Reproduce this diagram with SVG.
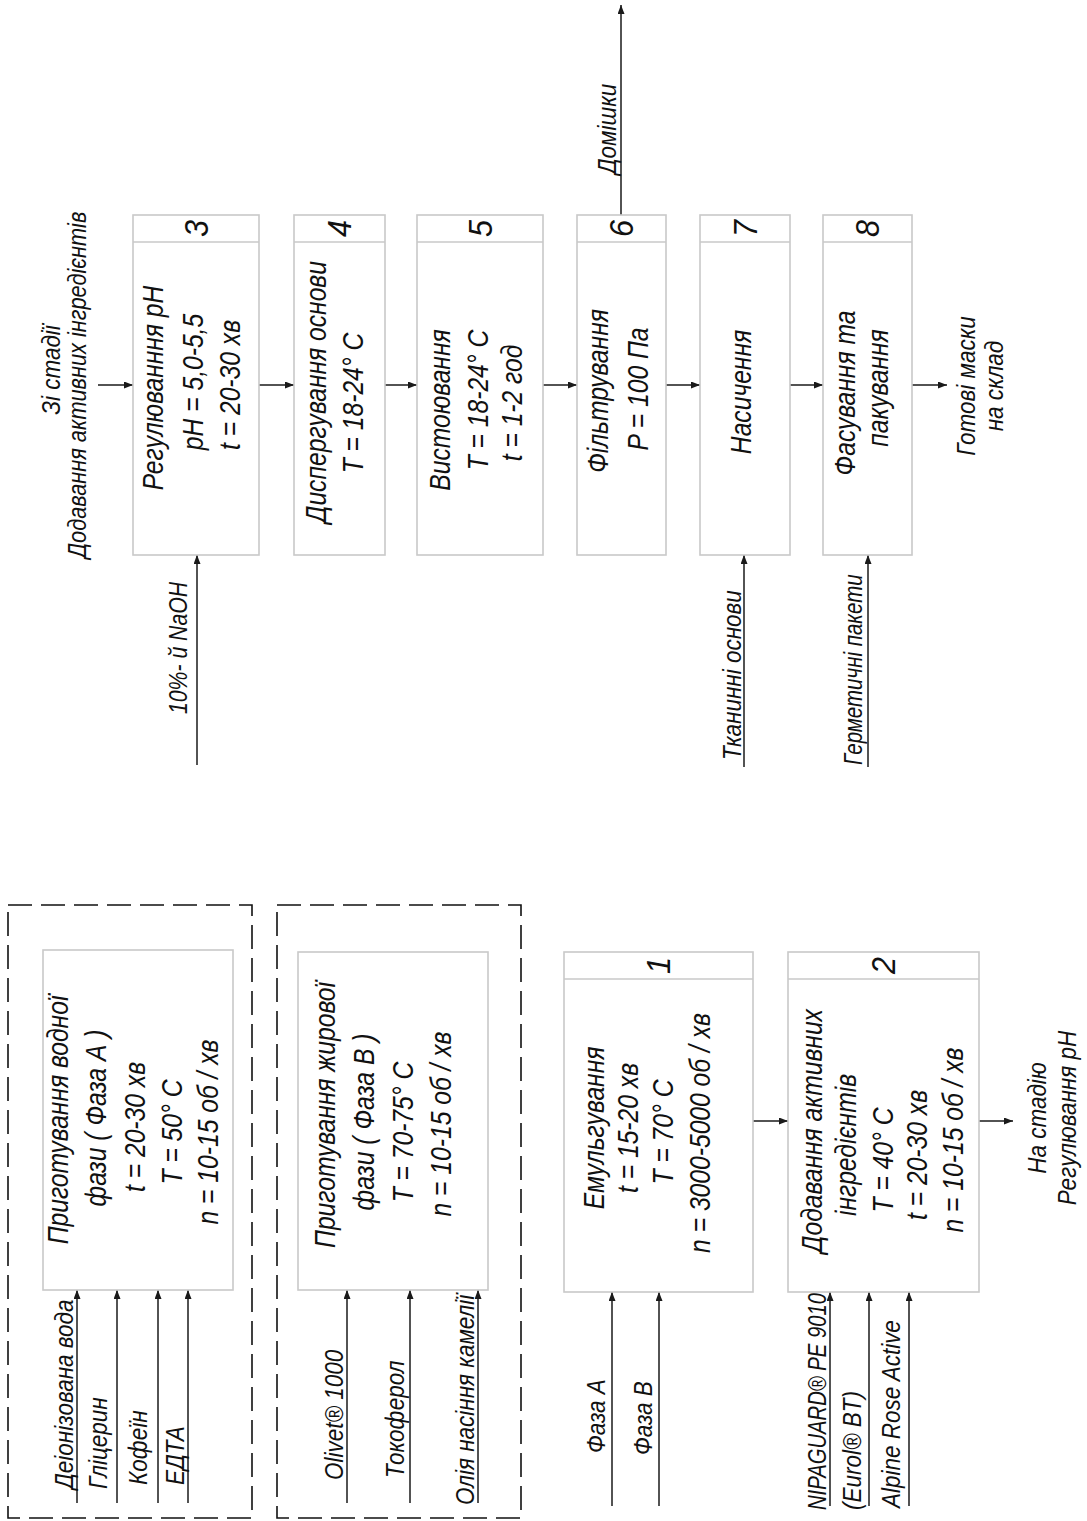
<svg xmlns="http://www.w3.org/2000/svg" width="1087" height="1521" viewBox="0 0 1087 1521">
<style>
.bg{fill:#fff}
.box{fill:#fff;stroke:#c9c9c9;stroke-width:1.6}
.dash{fill:none;stroke:#111;stroke-width:1.6;stroke-dasharray:24 9}
.ln{fill:none;stroke:#1a1a1a;stroke-width:1.5}
.t{font-family:"Liberation Sans",Arial,sans-serif;font-style:italic;font-size:29px;fill:#111;text-anchor:middle}
.l{font-family:"Liberation Sans",Arial,sans-serif;font-style:italic;font-size:25px;fill:#111;text-anchor:start}
.lm{font-family:"Liberation Sans",Arial,sans-serif;font-style:italic;font-size:25px;fill:#111;text-anchor:middle}
.n{font-family:"Liberation Sans",Arial,sans-serif;font-style:italic;font-size:34px;fill:#111;text-anchor:middle}
</style>
<defs>
<marker id="ah" viewBox="0 0 9 7" refX="9" refY="3.5" markerWidth="9" markerHeight="7" markerUnits="userSpaceOnUse" orient="auto">
<path d="M0,0 L9,3.5 L0,7 z" fill="#1a1a1a"/>
</marker>
</defs>
<rect class="bg" x="0" y="0" width="1087" height="1521"/>

<g id="connectors">
<line class="ln" x1="77" y1="1503" x2="77" y2="1290" marker-end="url(#ah)"/>
<line class="ln" x1="117" y1="1503" x2="117" y2="1290" marker-end="url(#ah)"/>
<line class="ln" x1="158" y1="1503" x2="158" y2="1290" marker-end="url(#ah)"/>
<line class="ln" x1="188" y1="1503" x2="188" y2="1290" marker-end="url(#ah)"/>
<line class="ln" x1="347" y1="1503" x2="347" y2="1290" marker-end="url(#ah)"/>
<line class="ln" x1="410" y1="1503" x2="410" y2="1290" marker-end="url(#ah)"/>
<line class="ln" x1="478" y1="1503" x2="478" y2="1290" marker-end="url(#ah)"/>
<line class="ln" x1="612" y1="1506" x2="612" y2="1292" marker-end="url(#ah)"/>
<line class="ln" x1="659" y1="1506" x2="659" y2="1292" marker-end="url(#ah)"/>
<line class="ln" x1="830" y1="1506" x2="830" y2="1292" marker-end="url(#ah)"/>
<line class="ln" x1="869" y1="1506" x2="869" y2="1292" marker-end="url(#ah)"/>
<line class="ln" x1="909" y1="1506" x2="909" y2="1292" marker-end="url(#ah)"/>
<line class="ln" x1="753" y1="1121" x2="788" y2="1121" marker-end="url(#ah)"/>
<line class="ln" x1="979" y1="1121" x2="1013" y2="1121" marker-end="url(#ah)"/>
<line class="ln" x1="98" y1="385" x2="133" y2="385" marker-end="url(#ah)"/>
<line class="ln" x1="259" y1="385" x2="294" y2="385" marker-end="url(#ah)"/>
<line class="ln" x1="385" y1="385" x2="417" y2="385" marker-end="url(#ah)"/>
<line class="ln" x1="543" y1="385" x2="577" y2="385" marker-end="url(#ah)"/>
<line class="ln" x1="666" y1="385" x2="700" y2="385" marker-end="url(#ah)"/>
<line class="ln" x1="790" y1="385" x2="823" y2="385" marker-end="url(#ah)"/>
<line class="ln" x1="912" y1="385" x2="947" y2="385" marker-end="url(#ah)"/>
<line class="ln" x1="197" y1="765" x2="197" y2="555" marker-end="url(#ah)"/>
<line class="ln" x1="744" y1="767" x2="744" y2="555" marker-end="url(#ah)"/>
<line class="ln" x1="868" y1="767" x2="868" y2="555" marker-end="url(#ah)"/>
<line class="ln" x1="621" y1="215" x2="621" y2="5" marker-end="url(#ah)"/>
</g>

<g id="phaseA">
<rect class="dash" x="8" y="905" width="244" height="613"/>
<rect class="box" x="43" y="950" width="190" height="340"/>
<text class="t" transform="translate(68,1120) rotate(-90) scale(0.85,1)">Приготування водної</text>
<text class="t" transform="translate(106,1118) rotate(-90) scale(0.85,1)">фази ( Фаза А )</text>
<text class="t" transform="translate(145,1127) rotate(-90) scale(0.85,1)">t = 20-30 хв</text>
<text class="t" transform="translate(182,1132) rotate(-90) scale(0.85,1)">T = 50° C</text>
<text class="t" transform="translate(218,1132) rotate(-90) scale(0.85,1)">n = 10-15 об / хв</text>
<text class="l" transform="translate(73,1489) rotate(-90) scale(0.9,1)">Деіонізована вода</text>
<text class="l" transform="translate(107,1489) rotate(-90) scale(0.9,1)">Гліцерин</text>
<text class="l" transform="translate(147,1485) rotate(-90) scale(0.9,1)">Кофеїн</text>
<text class="l" transform="translate(184,1485) rotate(-90) scale(0.9,1)">ЕДТА</text>
</g>

<g id="phaseB">
<rect class="dash" x="277" y="905" width="244" height="613"/>
<rect class="box" x="298" y="952" width="190" height="338"/>
<text class="t" transform="translate(335,1115) rotate(-90) scale(0.85,1)">Приготування жирової</text>
<text class="t" transform="translate(374,1122) rotate(-90) scale(0.85,1)">фази ( Фаза В )</text>
<text class="t" transform="translate(413,1132) rotate(-90) scale(0.85,1)">T = 70-75° C</text>
<text class="t" transform="translate(451,1124) rotate(-90) scale(0.85,1)">n = 10-15 об / хв</text>
<text class="l" transform="translate(343,1480) rotate(-90) scale(0.9,1)">Olivet® 1000</text>
<text class="l" transform="translate(404,1478) rotate(-90) scale(0.9,1)">Токоферол</text>
<text class="l" transform="translate(474,1505) rotate(-90) scale(0.9,1)">Олія насіння камелії</text>
</g>

<g id="step1">
<rect class="box" x="564" y="952" width="189" height="340"/>
<line class="box" x1="564" y1="979" x2="753" y2="979"/>
<text class="n" transform="translate(670,965.5) rotate(-90) scale(0.9,1)">1</text>
<text class="t" transform="translate(604,1128) rotate(-90) scale(0.85,1)">Емульгування</text>
<text class="t" transform="translate(638,1128) rotate(-90) scale(0.85,1)">t = 15-20 хв</text>
<text class="t" transform="translate(673,1132) rotate(-90) scale(0.85,1)">T = 70° C</text>
<text class="t" transform="translate(710,1133) rotate(-90) scale(0.85,1)">n = 3000-5000 об / хв</text>
<text class="l" transform="translate(605,1453) rotate(-90) scale(0.9,1)">Фаза А</text>
<text class="l" transform="translate(652,1455) rotate(-90) scale(0.9,1)">Фаза В</text>
</g>

<g id="step2">
<rect class="box" x="788" y="952" width="191" height="340"/>
<line class="box" x1="788" y1="979" x2="979" y2="979"/>
<text class="n" transform="translate(895,965.5) rotate(-90) scale(0.9,1)">2</text>
<text class="t" transform="translate(822,1131) rotate(-90) scale(0.85,1)">Додавання активних</text>
<text class="t" transform="translate(856,1145) rotate(-90) scale(0.85,1)">інгредієнтів</text>
<text class="t" transform="translate(893,1160) rotate(-90) scale(0.85,1)">T = 40° C</text>
<text class="t" transform="translate(927,1155) rotate(-90) scale(0.85,1)">t = 20-30 хв</text>
<text class="t" transform="translate(963,1140) rotate(-90) scale(0.85,1)">n = 10-15 об / хв</text>
<text class="l" transform="translate(826,1510) rotate(-90) scale(0.81,1)">NIPAGUARD® PE 9010</text>
<text class="l" transform="translate(861,1510) rotate(-90) scale(0.9,1)">(Eurol® BT)</text>
<text class="l" transform="translate(900,1508) rotate(-90) scale(0.9,1)">Alpine Rose Active</text>
<text class="lm" transform="translate(1046,1118) rotate(-90) scale(0.9,1)">На стадію</text>
<text class="lm" transform="translate(1076,1118) rotate(-90) scale(0.9,1)">Регулювання pH</text>
</g>

<g id="step3">
<text class="lm" transform="translate(60,370) rotate(-90) scale(0.9,1)">Зі стадії</text>
<text class="lm" transform="translate(86,385) rotate(-90) scale(0.87,1)">Додавання активних інгредієнтів</text>
<rect class="box" x="133" y="215" width="126" height="340"/>
<line class="box" x1="133" y1="242" x2="259" y2="242"/>
<text class="n" transform="translate(208,228.5) rotate(-90) scale(0.9,1)">3</text>
<text class="t" transform="translate(163,388) rotate(-90) scale(0.85,1)">Регулюванння pH</text>
<text class="t" transform="translate(203,382) rotate(-90) scale(0.85,1)">pH = 5,0-5,5</text>
<text class="t" transform="translate(240,385) rotate(-90) scale(0.85,1)">t = 20-30 хв</text>
<text class="lm" transform="translate(187,648) rotate(-90) scale(0.85,1)">10%- й NaOH</text>
</g>

<g id="step4">
<rect class="box" x="294" y="215" width="91" height="340"/>
<line class="box" x1="294" y1="242" x2="385" y2="242"/>
<text class="n" transform="translate(351,228.5) rotate(-90) scale(0.9,1)">4</text>
<text class="t" transform="translate(326,392) rotate(-90) scale(0.85,1)">Диспергування основи</text>
<text class="t" transform="translate(363,403) rotate(-90) scale(0.85,1)">T = 18-24° C</text>
</g>

<g id="step5">
<rect class="box" x="417" y="215" width="126" height="340"/>
<line class="box" x1="417" y1="242" x2="543" y2="242"/>
<text class="n" transform="translate(492,228.5) rotate(-90) scale(0.9,1)">5</text>
<text class="t" transform="translate(450,410) rotate(-90) scale(0.85,1)">Вистоювання</text>
<text class="t" transform="translate(488,400) rotate(-90) scale(0.85,1)">T = 18-24° C</text>
<text class="t" transform="translate(522,403) rotate(-90) scale(0.85,1)">t = 1-2 год</text>
</g>

<g id="step6">
<rect class="box" x="577" y="215" width="89" height="340"/>
<line class="box" x1="577" y1="242" x2="666" y2="242"/>
<text class="n" transform="translate(633,228.5) rotate(-90) scale(0.9,1)">6</text>
<text class="t" transform="translate(608,391) rotate(-90) scale(0.85,1)">Фільтрування</text>
<text class="t" transform="translate(648,389) rotate(-90) scale(0.85,1)">P = 100 Па</text>
<text class="lm" transform="translate(616,129) rotate(-90) scale(0.9,1)">Домішки</text>
</g>

<g id="step7">
<rect class="box" x="700" y="215" width="90" height="340"/>
<line class="box" x1="700" y1="242" x2="790" y2="242"/>
<text class="n" transform="translate(757,228.5) rotate(-90) scale(0.9,1)">7</text>
<text class="t" transform="translate(751,392) rotate(-90) scale(0.85,1)">Насичення</text>
<text class="l" transform="translate(741,760) rotate(-90) scale(0.9,1)">Тканинні основи</text>
</g>

<g id="step8">
<rect class="box" x="823" y="215" width="89" height="340"/>
<line class="box" x1="823" y1="242" x2="912" y2="242"/>
<text class="n" transform="translate(879,228.5) rotate(-90) scale(0.9,1)">8</text>
<text class="t" transform="translate(855,393) rotate(-90) scale(0.85,1)">Фасування та</text>
<text class="t" transform="translate(888,388) rotate(-90) scale(0.85,1)">пакування</text>
<text class="l" transform="translate(862,765) rotate(-90) scale(0.82,1)">Герметичні пакети</text>
<text class="lm" transform="translate(975,386) rotate(-90) scale(0.9,1)">Готові маски</text>
<text class="lm" transform="translate(1003,386) rotate(-90) scale(0.9,1)">на склад</text>
</g>
</svg>
